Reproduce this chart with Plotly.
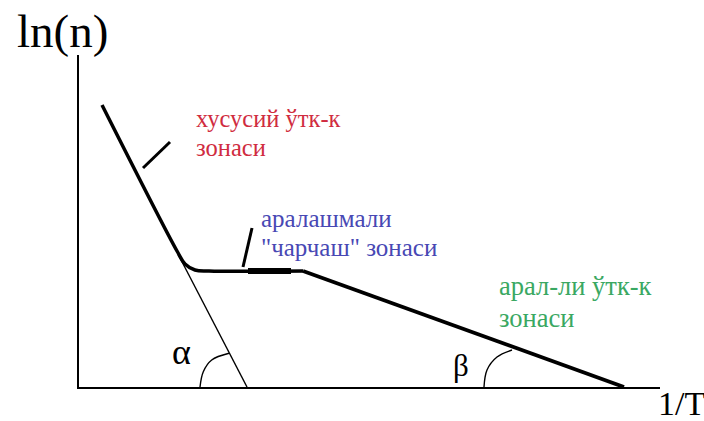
import plotly.graph_objects as go

# Schematic ln(n) versus 1/T curve (arbitrary units, origin at the axes corner)
steep_x = [0.23, 0.98, 1.06, 1.16, 1.30, 2.24]
steep_y = [2.82, 1.36, 1.23, 1.17, 1.16, 1.16]
slope_x = [2.24, 5.45]
slope_y = [1.16, 0.00]

# Extension of the steep branch down to the 1/T axis
ext_x = [1.00, 1.68]
ext_y = [1.31, 0.00]

# Thicker stretch on the plateau
blob_x = [1.69, 2.12]
blob_y = [1.16, 1.16]

# Angle arcs
alpha_x = [1.21, 1.243, 1.327, 1.50]
alpha_y = [0.00, 0.153, 0.270, 0.337]
beta_x = [4.05, 4.08, 4.18, 4.33]
beta_y = [0.00, 0.17, 0.30, 0.37]

# Short pointer strokes to the zone labels
ptr1_x = [0.64, 0.91]
ptr1_y = [2.19, 2.45]
ptr2_x = [1.64, 1.73]
ptr2_y = [1.20, 1.59]

X_RANGE = [0, 5.81]
Y_RANGE = [0, 3.32]

fig = go.Figure()

def line(x, y, w, shape="linear", color="black"):
    fig.add_trace(go.Scatter(x=x, y=y, mode="lines",
                             line=dict(color=color, width=w, shape=shape),
                             hoverinfo="skip", showlegend=False))

line(ext_x, ext_y, 1.4)
line(alpha_x, alpha_y, 1.4, "spline")
line(beta_x, beta_y, 1.4, "spline")
line(steep_x, steep_y, 3.5, "spline")
line(slope_x, slope_y, 3.8)
line(blob_x, blob_y, 6)
line(ptr1_x, ptr1_y, 3)
line(ptr2_x, ptr2_y, 3)

serif = "'Liberation Serif', serif"

def to_paper(x, y):
    return ((x - X_RANGE[0]) / (X_RANGE[1] - X_RANGE[0]),
            (y - Y_RANGE[0]) / (Y_RANGE[1] - Y_RANGE[0]))

def label(x, y, text, size, color="black", anchor="left"):
    px, py = to_paper(x, y)
    fig.add_annotation(x=px, y=py, text=text, showarrow=False,
                       xref="paper", yref="paper", xanchor=anchor,
                       yanchor="middle",
                       font=dict(family=serif, size=size, color=color))

label(-0.165, 3.56, "ln(n)", 47, anchor="center")
label(6.02, -0.16, "1/T", 34, anchor="center")
label(1.02, 0.35, "α", 36, anchor="center")
label(3.82, 0.22, "β", 31, anchor="center")

red = "#d02c40"
blue = "#4848b4"
green = "#3aa862"
label(1.15, 2.68, "хусусий ўтк-к", 24.5, red)
label(1.15, 2.39, "зонаси", 24.5, red)
label(1.80, 1.69, "аралашмали", 25, blue)
label(1.80, 1.40, "\"чарчаш\" зонаси", 25, blue)
label(4.18, 1.01, "арал-ли ўтк-к", 26.5, green)
label(4.18, 0.69, "зонаси", 26.5, green)

fig.update_xaxes(range=X_RANGE, showgrid=False, zeroline=False,
                 showticklabels=False, ticks="", showline=True,
                 linecolor="black", linewidth=2)
fig.update_yaxes(range=Y_RANGE, showgrid=False, zeroline=False,
                 showticklabels=False, ticks="", showline=True,
                 linecolor="black", linewidth=2)

fig.update_layout(width=704, height=421,
                  margin=dict(l=79, r=44, t=55, b=34, pad=0),
                  paper_bgcolor="white", plot_bgcolor="white")

fig.write_html("out.html")
